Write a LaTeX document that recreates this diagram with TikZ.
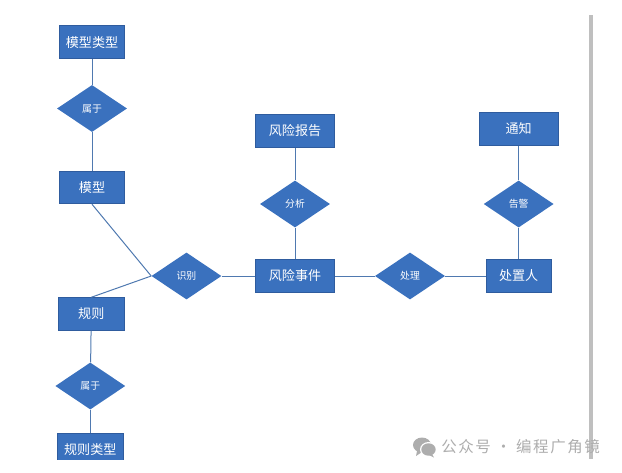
\documentclass[tikz,border=0pt]{standalone}
\usepackage{fontspec}
\setmainfont{Noto Sans CJK SC}
\newfontfamily\markfont[LetterSpace=10]{Noto Sans CJK SC}
\usetikzlibrary{shapes.geometric}
\definecolor{boxblue}{HTML}{3A71BE}
\definecolor{edgeblue}{HTML}{2F5C9E}
\definecolor{linkblue}{HTML}{4F79B0}
\definecolor{markgrey}{HTML}{ADADAD}
\tikzset{
    entity/.style={rectangle,draw=edgeblue,fill=boxblue,text=white,line width=.6pt,inner sep=0pt,minimum width=49pt,minimum height=24.5pt,font=\fontsize{9.8pt}{11pt}\selectfont},
    wideentity/.style={entity,minimum width=59.5pt},
    relation/.style={diamond,fill=boxblue,text=white,inner sep=0pt,minimum width=52.5pt,minimum height=35.25pt,font=\fontsize{7.4pt}{9pt}\selectfont},
    link/.style={draw=linkblue,line width=.75pt}
}
\begin{document}
\begin{tikzpicture}[x=.75pt,y=-.75pt]
    \useasboundingbox (0,0) rectangle (622,472);
    \clip (0,0) rectangle (622,459);
    % Blocks
    \node [wideentity] (event) at (295,276) {风险事件};
    \node [wideentity,above of=event,node distance=108.75pt] (report) {风险报告};
    \node [relation,above of=event,node distance=54pt] (analyse) {分析};
    \node [relation,left of=event,node distance=81.4pt] (identify) {识别};
    \node [relation,right of=event,node distance=86.25pt] (handle) {处理};
    \node [entity,right of=handle,node distance=81.5pt] (owner) {处置人};
    \node [relation,above of=owner,node distance=54pt] (alarm) {告警};
    \node [wideentity,above of=alarm,node distance=56.25pt] (notice) {通知};
    \node [entity] (model) at (92,187.5) {模型};
    \node [relation,above of=model,node distance=59.25pt] (modelof) {属于};
    \node [entity,above of=model,node distance=109pt] (modeltype) {模型类型};
    \node [entity] (rule) at (91.3,314) {规则};
    \node [relation,below of=rule,xshift=-.75pt,node distance=54pt] (ruleof) {属于};
    \node [entity,below of=rule,xshift=-.75pt,node distance=101.6pt] (ruletype) {规则类型};

    % Connections
    \draw [link] (modeltype) -- (modelof);
    \draw [link] (modelof) -- (model);
    \draw [link] (model.south) -- (identify.west);
    \draw [link] (rule.north) -- (identify.west);
    \draw [link] (rule) -- (ruleof);
    \draw [link] (ruleof) -- (ruletype);
    \draw [link] (identify) -- (event);
    \draw [link] (report) -- (analyse);
    \draw [link] (analyse) -- (event);
    \draw [link] (event) -- (handle);
    \draw [link] (handle) -- (owner);
    \draw [link] (notice) -- (alarm);
    \draw [link] (alarm) -- (owner);

    % Page edge and watermark
    \draw [line width=2.8pt,draw=black!25] (591,15) -- (591,459);
    \fill [markgrey] (422,445) ellipse (9 and 7.5);
    \fill [markgrey] (417,451) -- (416,456) -- (422,452) -- cycle;
    \fill [white] (428.5,449.5) ellipse (8.5 and 7.5);
    \fill [markgrey] (428.5,449.5) ellipse (7.2 and 6.2);
    \fill [markgrey] (432,454) -- (434,457.5) -- (429,455) -- cycle;
    \node [text=markgrey,anchor=west,inner sep=0pt,font=\fontsize{11.6pt}{14pt}\markfont] (mark) at (441,447) {公众号 · 编程广角镜};
\end{tikzpicture}
\end{document}
